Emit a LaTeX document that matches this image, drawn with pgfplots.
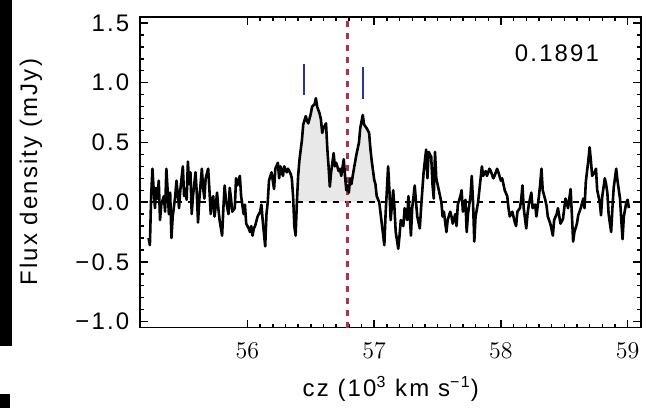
\documentclass[border=0pt]{standalone}
\usepackage{fontspec}
\setmainfont[LetterSpace=9]{Liberation Sans}
\usepackage{pgfplots}
\pgfplotsset{compat=1.18}

\definecolor{vred}{RGB}{185,45,75}
\definecolor{tickblue}{RGB}{40,50,170}

\begin{document}
\begin{tikzpicture}
\begin{axis}[
    scale only axis,
    width=250bp, height=155bp,
    xmin=55.154, xmax=59.107,
    ymin=-1.05, ymax=1.55,
    xtick={56,57,58,59},
    ytick={-1,-0.5,0,0.5,1,1.5},
    yticklabels={−1.0,−0.5,0.0,0.5,1.0,1.5},
    minor x tick num=9,
    minor y tick num=4,
    major tick length=4bp,
    minor tick length=2bp,
    tick style={black, line width=0.7pt},
    axis line style={line width=0.9pt},
    font=\fontsize{12}{14}\selectfont,
    xticklabel style={yshift=-4bp},
    yticklabel style={xshift=-2bp},
    xlabel={cz (10\textsuperscript{3} km s\textsuperscript{−1})},
    ylabel={Flux density (mJy)},
    every axis x label/.style={at={(axis description cs:0.5,-0.197)}, anchor=center},
    every axis y label/.style={at={(axis description cs:-0.218,0.5)}, rotate=90, anchor=center},
    clip=false,
]
% shaded line region
\addplot[fill=gray!18, draw=none] coordinates {
 (56.39,0) (56.40,0.22) (56.41,0.35) (56.43,0.52) (56.44,0.65) (56.46,0.72)
 (56.47,0.68) (56.48,0.66) (56.50,0.74) (56.51,0.80) (56.53,0.82) (56.54,0.87)
 (56.55,0.80) (56.57,0.74) (56.58,0.69) (56.59,0.58) (56.60,0.62) (56.62,0.66)
 (56.63,0.45) (56.64,0.30) (56.65,0.13) (56.66,0.25) (56.68,0.41) (56.69,0.30)
 (56.70,0.33) (56.72,0.26) (56.73,0.28) (56.74,0.22) (56.76,0.36) (56.77,0.22)
 (56.78,0.10) (56.79,0.14) (56.80,0.08) (56.81,0.20) (56.82,0.15) (56.84,0.28)
 (56.86,0.40) (56.88,0.50) (56.89,0.62) (56.91,0.73) (56.92,0.65) (56.94,0.62)
 (56.96,0.58) (56.97,0.45) (56.98,0.35) (57.00,0.19) (57.01,0.15) (57.02,0.05)
 (57.04,0)
} \closedcycle;
% zero level
\addplot[black, line width=0.8pt, dash pattern=on 3bp off 3bp] coordinates {(55.154,0) (59.107,0)};
% systemic velocity
\addplot[vred, line width=1.1pt, dash pattern=on 3bp off 3bp] coordinates {(56.79,-1.05) (56.79,1.55)};
% horn markers
\addplot[tickblue, line width=1pt] coordinates {(56.45,0.90) (56.45,1.16)};
\addplot[tickblue, line width=1pt] coordinates {(56.91,0.86) (56.91,1.13)};
% spectrum
\addplot[black, line width=1.3pt, line join=round] coordinates {
 (55.22,-0.30) (55.23,-0.36) (55.24,0.05) (55.25,0.28) (55.26,0.10) (55.27,-0.05)
 (55.28,0.12) (55.29,0.03) (55.30,0.18) (55.31,-0.15) (55.32,-0.02) (55.34,0.05)
 (55.35,-0.08) (55.36,0.28) (55.37,0.10) (55.38,-0.10) (55.39,0.08) (55.40,-0.30)
 (55.41,-0.12) (55.43,0.05) (55.44,0.18) (55.46,-0.05) (55.47,0.10) (55.49,0.30)
 (55.50,0.05) (55.51,0.11) (55.52,0.02) (55.53,0.34) (55.54,0.15) (55.55,0.25)
 (55.56,-0.10) (55.57,0.05) (55.59,0.25) (55.60,0.08) (55.61,-0.17) (55.62,0.02)
 (55.64,0.28) (55.65,0.12) (55.66,0.03) (55.67,0.20) (55.69,0.28) (55.70,0.10)
 (55.71,-0.10) (55.72,0.02) (55.73,0.05) (55.74,-0.12) (55.75,-0.03) (55.76,0.08)
 (55.77,-0.05) (55.78,-0.15) (55.80,-0.28) (55.81,-0.05) (55.82,0.14) (55.83,0.02)
 (55.85,-0.10) (55.86,0.12) (55.87,0.03) (55.88,-0.08) (55.90,-0.05) (55.91,0.20)
 (55.92,0.14) (55.94,0.22) (55.95,0.05) (55.97,-0.10) (55.98,-0.02) (55.99,-0.18)
 (56.01,-0.22) (56.02,-0.25) (56.03,-0.20) (56.04,-0.28) (56.05,-0.22) (56.06,-0.20)
 (56.08,-0.12) (56.10,-0.08) (56.11,-0.02) (56.12,-0.15) (56.14,-0.37) (56.15,-0.10)
 (56.16,0.00) (56.17,0.18) (56.19,0.25) (56.20,0.18) (56.21,0.11) (56.22,0.28)
 (56.24,0.33) (56.25,0.20) (56.26,0.30) (56.28,0.22) (56.29,0.30) (56.31,0.25)
 (56.32,0.28) (56.34,0.24) (56.35,0.20) (56.36,0.05) (56.37,-0.20) (56.38,-0.28)
 (56.39,0.00) (56.40,0.22) (56.41,0.35) (56.43,0.52) (56.44,0.65) (56.46,0.72)
 (56.47,0.68) (56.48,0.66) (56.50,0.74) (56.51,0.80) (56.53,0.82) (56.54,0.87)
 (56.55,0.80) (56.57,0.74) (56.58,0.69) (56.59,0.58) (56.60,0.62) (56.62,0.66)
 (56.63,0.45) (56.64,0.30) (56.65,0.13) (56.66,0.25) (56.68,0.41) (56.69,0.30)
 (56.70,0.33) (56.72,0.26) (56.73,0.28) (56.74,0.22) (56.76,0.36) (56.77,0.22)
 (56.78,0.10) (56.79,0.14) (56.80,0.08) (56.81,0.20) (56.82,0.15) (56.84,0.28)
 (56.86,0.40) (56.88,0.50) (56.89,0.62) (56.91,0.73) (56.92,0.65) (56.94,0.62)
 (56.96,0.58) (56.97,0.45) (56.98,0.35) (57.00,0.19) (57.01,0.15) (57.02,0.05)
 (57.04,0.00) (57.06,-0.18) (57.08,-0.36) (57.09,-0.10) (57.11,0.30) (57.12,0.10)
 (57.13,-0.15) (57.15,0.10) (57.16,-0.05) (57.17,-0.25) (57.19,-0.39) (57.20,-0.28)
 (57.21,-0.15) (57.23,-0.20) (57.24,-0.05) (57.26,-0.15) (57.27,0.05) (57.28,-0.10)
 (57.29,-0.28) (57.30,-0.05) (57.32,0.14) (57.33,0.00) (57.34,-0.12) (57.36,-0.22)
 (57.37,-0.05) (57.38,0.10) (57.39,0.25) (57.41,0.44) (57.42,0.20) (57.43,0.42)
 (57.45,0.38) (57.46,0.15) (57.47,0.03) (57.48,0.42) (57.49,0.20) (57.51,0.10)
 (57.53,0.00) (57.54,-0.12) (57.55,-0.08) (57.57,-0.25) (57.58,-0.15) (57.60,-0.08)
 (57.61,-0.12) (57.62,-0.18) (57.64,-0.10) (57.65,-0.20) (57.66,-0.02) (57.68,0.05)
 (57.69,0.10) (57.70,-0.08) (57.72,0.02) (57.73,-0.25) (57.74,-0.10) (57.76,0.05)
 (57.77,0.22) (57.78,0.00) (57.79,-0.33) (57.80,-0.12) (57.82,0.00) (57.83,0.10)
 (57.85,0.30) (57.86,0.22) (57.88,0.26) (57.89,0.22) (57.91,0.28) (57.92,0.26)
 (57.94,0.20) (57.95,0.22) (57.97,0.28) (57.98,0.25) (58.00,0.18) (58.01,0.20)
 (58.03,0.10) (58.05,0.05) (58.06,-0.05) (58.07,-0.12) (58.09,-0.08) (58.11,-0.17)
 (58.12,-0.20) (58.13,-0.08) (58.15,-0.05) (58.16,0.02) (58.17,0.14) (58.18,-0.05)
 (58.20,-0.22) (58.21,-0.10) (58.22,-0.02) (58.24,0.08) (58.25,-0.05) (58.27,-0.02)
 (58.28,-0.12) (58.30,0.05) (58.31,0.15) (58.32,0.28) (58.33,0.10) (58.35,0.02)
 (58.36,-0.03) (58.37,-0.12) (58.39,-0.18) (58.41,-0.28) (58.42,-0.15) (58.44,-0.10)
 (58.45,-0.05) (58.47,-0.18) (58.49,-0.14) (58.50,-0.05) (58.51,0.03) (58.53,-0.05)
 (58.55,0.11) (58.56,-0.10) (58.57,-0.33) (58.58,-0.25) (58.60,-0.18) (58.61,-0.11)
 (58.63,-0.05) (58.65,0.03) (58.66,-0.05) (58.67,0.17) (58.69,0.35) (58.70,0.46)
 (58.71,0.35) (58.72,0.22) (58.74,0.25) (58.75,0.28) (58.76,0.10) (58.78,0.00)
 (58.79,-0.11) (58.80,0.05) (58.82,0.20) (58.83,0.15) (58.84,0.08) (58.85,-0.10)
 (58.87,-0.25) (58.88,-0.05) (58.89,0.12) (58.91,0.28) (58.92,0.18) (58.94,0.03)
 (58.95,-0.15) (58.96,-0.31) (58.97,-0.12) (58.99,0.00) (59.00,0.02) (59.01,-0.05)
};
\node[anchor=east, font=\fontsize{12}{14}\selectfont] at (axis cs:58.83,1.25) {0.1891};
% strip of the neighbouring panel at the left edge
\fill[black] (rel axis cs:-0.28,1.0548) rectangle (rel axis cs:-0.256,-0.058);
\fill[black] (rel axis cs:-0.28,-0.213) rectangle (rel axis cs:-0.26,-0.258);
\end{axis}
\end{tikzpicture}
\end{document}
